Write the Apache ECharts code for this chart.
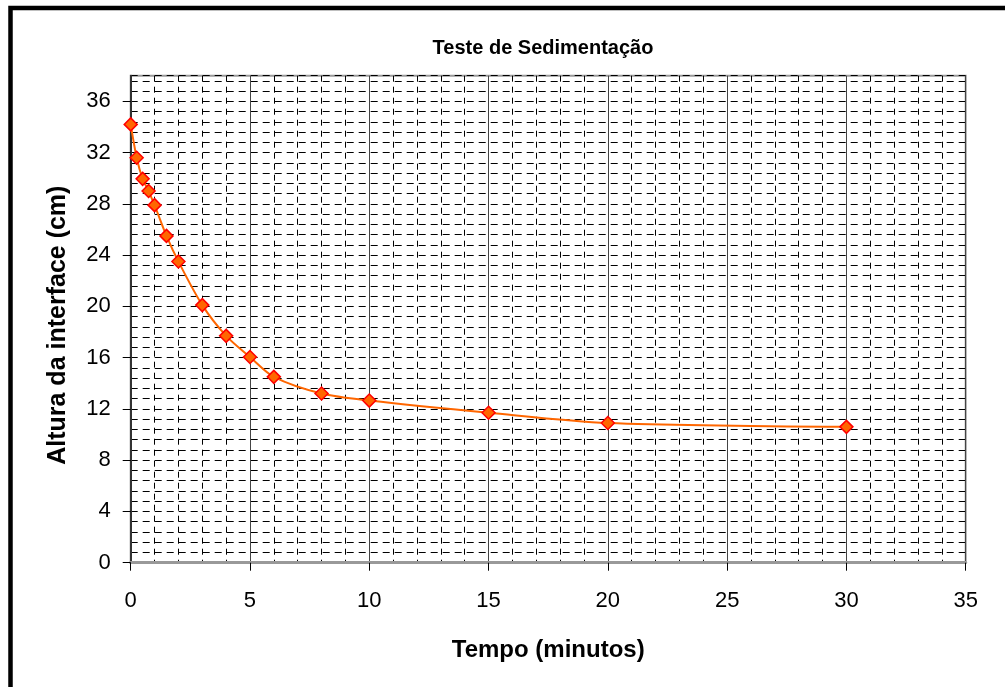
<!DOCTYPE html>
<html>
<head>
<meta charset="utf-8">
<script src="https://cdn.jsdelivr.net/npm/echarts@6/dist/echarts.min.js"></script>
<style>
  html, body { margin: 0; padding: 0; background: #fff; }
  #main { width: 1005px; height: 687px; }
</style>
</head>
<body>
<div id="main"></div>
<script>
// tempo (minutos) e altura da interface (cm)
const tempo = [0, 0.25, 0.5, 0.75, 1, 1.5, 2, 3, 4, 5, 6, 8, 10, 15, 20, 30];
const altura = [34.2, 31.6, 29.95, 29.0, 27.9, 25.5, 23.5, 20.1, 17.7, 16.05, 14.5, 13.2, 12.65, 11.7, 10.9, 10.6];
const yTicks = [0, 4, 8, 12, 16, 20, 24, 28, 32, 36];

const pontos = tempo.map((t, i) => [t, altura[i]]);

var myChart = echarts.init(document.getElementById('main'));
const fonte = 'Arial, "Liberation Sans", sans-serif';

var option = {
  backgroundColor: '#fff',
  animation: false,
  title: {
    text: 'Teste de Sedimentação',
    left: 538,
    textAlign: 'center',
    top: 33,
    textStyle: { fontFamily: fonte, fontWeight: 'bold', fontSize: 20, color: '#000' }
  },
  grid: {
    left: 130.7, right: 39.3, top: 75.7, bottom: 124.3,
    show: true,
    borderColor: '#9a9a9a',
    borderWidth: 2,
    backgroundColor: '#fff'
  },
  graphic: [{
    type: 'rect',
    shape: { x: 10.5, y: 8, width: 1200, height: 900 },
    style: { fill: 'none', stroke: '#000', lineWidth: 4.5 },
    silent: true,
    z: 100
  }],
  xAxis: {
    type: 'value',
    min: 0, max: 35, interval: 5,
    name: 'Tempo (minutos)',
    nameLocation: 'middle',
    nameGap: 76,
    nameTextStyle: { fontFamily: fonte, fontWeight: 'bold', fontSize: 24, color: '#000' },
    axisLine: { show: true, onZero: false, lineStyle: { color: '#999', width: 3 } },
    axisTick: { show: true, inside: false, length: 8, lineStyle: { color: '#000', width: 1 } },
    axisLabel: { fontFamily: fonte, fontSize: 22, color: '#000', margin: 27 },
    splitLine: { show: true, lineStyle: { color: '#444', width: 1 } },
    minorTick: { show: false, splitNumber: 5 },
    minorSplitLine: { show: true, lineStyle: { color: '#000', width: 1, type: [6, 5] } }
  },
  yAxis: [{
    type: 'value',
    min: 0, max: 38, interval: 4,
    name: 'Altura da interface (cm)',
    nameLocation: 'middle',
    nameGap: 60,
    nameTextStyle: { fontFamily: fonte, fontWeight: 'bold', fontSize: 25, color: '#000', padding: [0, 12, 0, 0] },
    axisLine: { show: true, onZero: false, lineStyle: { color: '#333', width: 2 } },
    axisTick: { show: true, length: 8, customValues: yTicks, lineStyle: { color: '#000', width: 1 } },
    axisLabel: { fontFamily: fonte, fontSize: 22, color: '#000', margin: 20, customValues: yTicks },
    splitLine: { show: false }
  }, {
    // grade horizontal tracejada a cada 0,8 cm
    type: 'value',
    min: 0, max: 38, interval: 0.8,
    position: 'left',
    axisLine: { show: false },
    axisTick: { show: false },
    axisLabel: { show: false },
    splitLine: { show: true, lineStyle: { color: '#000', width: 1, type: [7, 5] } }
  }],
  series: [{
    type: 'line',
    data: pontos,
    yAxisIndex: 0,
    smooth: 0.3,
    symbol: 'diamond',
    symbolSize: 13,
    lineStyle: { color: '#FF6600', width: 2 },
    itemStyle: { color: '#FF6600', borderColor: '#FF0000', borderWidth: 1.5 },
    z: 5
  }]
};
myChart.setOption(option);
</script>
</body>
</html>
